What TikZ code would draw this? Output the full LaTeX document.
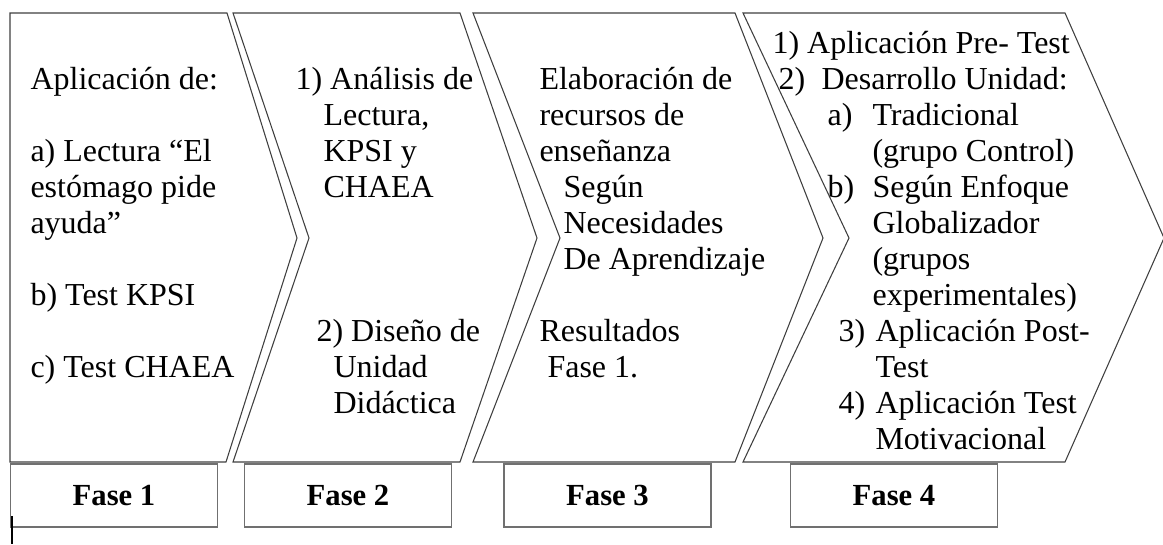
\documentclass[tikz,border=0pt]{standalone}
\usepackage{fontspec}
\setmainfont{Liberation Serif}
\usetikzlibrary{arrows.meta}

\definecolor{edgegray}{HTML}{3F3F3F}
\definecolor{boxgray}{HTML}{707070}

\begin{document}
\begin{tikzpicture}[%
        x = 0.75pt,
        y = -0.75pt,
        line width = 0.8pt,
        line join = miter,
        every node/.style = {inner sep = 0pt, font = \fontsize{24}{27}\selectfont},
        txt/.style = {anchor = base west, align = left},
        fasebox/.style = {draw = boxgray, line width = 1.2pt,
            minimum width = 155.25pt, minimum height = 47.25pt,
            font = \fontsize{23}{27}\selectfont\bfseries}
    ]

        \useasboundingbox (0,0) rectangle (1163,544);

        % Chevrons of the four phases.
        \begin{scope}[draw = edgegray]
            \draw (10,13) -- (227,13) -- (297,238) -- (226,462) -- (10,462) -- cycle;
            \draw (233,13) -- (460,13) -- (537,238) -- (460,462) -- (233,462) -- (309,238) -- cycle;
            \draw (473,13) -- (735,13) -- (823,238) -- (735,462) -- (473,462) -- (560,238) -- cycle;
            \draw (743,13) -- (1065,13) -- (1164,238) -- (1065,462) -- (743,462) -- (849,238) -- cycle;
        \end{scope}

        % Fase 1 (multi-line nodes sit on the baseline of their last line).
        \node[txt] (t1a) at (30,89) {Aplicación de:};
        \node[txt] (t1b) at (30,233) {a) Lectura “El\\estómago pide\\ayuda”};
        \node[txt] (t1c) at (30,305) {b) Test KPSI};
        \node[txt] (t1d) at (30,377) {c) Test CHAEA};

        % Fase 2.
        \node[txt] (t2a) at (295,89) {1) Análisis de};
        \node[txt] (t2b) at (323,197) {Lectura,\\KPSI y\\CHAEA};
        \node[txt] (t2c) at (316,341) {2) Diseño de};
        \node[txt] (t2d) at (333,413) {Unidad\\Didáctica};

        % Fase 3.
        \node[txt] (t3a) at (539,161) {Elaboración de\\recursos de\\enseñanza};
        \node[txt] (t3b) at (563,269) {Según\\Necesidades\\De Aprendizaje};
        \node[txt] (t3c) at (539,341) {Resultados};
        \node[txt] (t3d) at (547,377) {Fase 1.};

        % Fase 4.
        \node[txt] (t4a) at (772,53) {1) Aplicación Pre- Test};
        \node[txt] (n4b) at (778,89) {2)};
        \node[txt] (t4b) at (821,89) {Desarrollo Unidad:};
        \node[txt] (n4c) at (827,125) {a)};
        \node[txt] (t4c) at (872,161) {Tradicional\\(grupo Control)};
        \node[txt] (n4d) at (827,197) {b)};
        \node[txt] (t4d) at (872,305) {Según Enfoque\\Globalizador\\(grupos\\experimentales)};
        \node[txt] (n4e) at (838,341) {3)};
        \node[txt] (t4e) at (875,377) {Aplicación Post-\\Test};
        \node[txt] (n4f) at (838,413) {4)};
        \node[txt] (t4f) at (875,449) {Aplicación Test\\Motivacional};

        % Phase labels.
        \node[fasebox] (fase1) at (114,495.5) {Fase 1};
        \node[fasebox] (fase2) at (348,495.5) {Fase 2};
        \node[fasebox] (fase3) at (607.5,495.5) {Fase 3};
        \node[fasebox] (fase4) at (894,495.5) {Fase 4};

        % Text cursor left in the corner.
        \draw[line width = 1.5pt] (12,516) -- (12,544);
    \end{tikzpicture}
\end{document}
